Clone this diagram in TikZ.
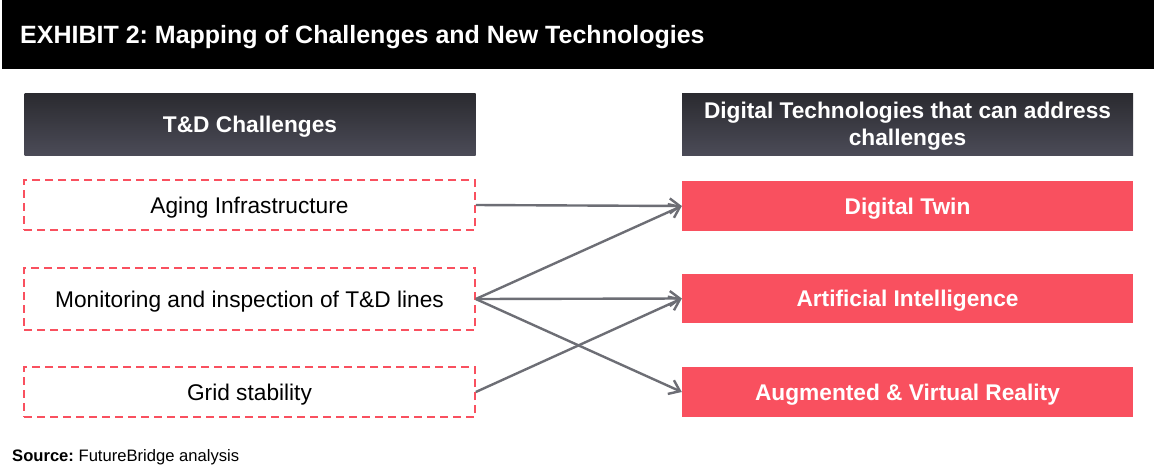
\documentclass[tikz,border=0pt]{standalone}
\usepackage{fontspec}
\setmainfont{Liberation Sans}
\usetikzlibrary{arrows.meta}
\frenchspacing
\definecolor{redbox}{HTML}{F9505F}
\definecolor{hdtop}{HTML}{2A2A2F}
\definecolor{hdbot}{HTML}{4B4B57}
\definecolor{arrowgray}{HTML}{6D6E75}
\tikzset{
  onel/.style={text height=16.5pt, text depth=0pt},
  hdrfont/.style={font=\fontsize{22.7}{27}\selectfont\bfseries, text=white},
  hdr/.style={hdrfont, top color=hdtop, bottom color=hdbot,
    minimum width=451pt, minimum height=62pt, inner sep=0pt, align=center},
  chal/.style={font=\fontsize{22.7}{27}\selectfont, onel, draw=redbox, dashed, dash pattern=on 8pt off 5pt, line width=1.6pt,
    minimum width=451pt, inner sep=0pt},
  tech/.style={font=\fontsize{22.7}{27}\selectfont\bfseries, onel, text=white, fill=redbox,
    minimum width=451pt, minimum height=50pt, inner sep=0pt},
  link/.style={draw=arrowgray, line width=2.4pt, -{Straight Barb[length=10pt,width=15pt]}},
}
\begin{document}
\begin{tikzpicture}[x=1pt,y=-1pt]
\useasboundingbox (0,0) rectangle (1154,475);
\fill[white] (0,0) rectangle (1154,475);
\fill[black] (2,0) rectangle (1154,69);
\node[anchor=west, text=white, font=\fontsize{25}{30}\selectfont\bfseries, inner sep=0pt, text height=18pt, text depth=0pt] (title) at (20,34.5) {EXHIBIT 2: Mapping of Challenges and New Technologies};

\node[hdr, onel] (lh) at (250,124) {T\&D Challenges};
\node[hdr] (rh) at (907.5,124) {};
\node[hdrfont, align=center, inner sep=0pt] (rhtext) at (907.5,126.5) {Digital Technologies that can address\\challenges};

\node[chal, minimum height=50pt] (c1) at (249.5,205) {Aging Infrastructure};
\node[chal, minimum height=62pt] (c2) at (249.5,299) {Monitoring and inspection of T\&D lines};
\node[chal, minimum height=50pt] (c3) at (249.5,392) {Grid stability};

\node[tech] (t1) at (907.5,206) {Digital Twin};
\node[tech, minimum height=49pt] (t2) at (907.5,298.5) {Artificial Intelligence};
\node[tech] (t3) at (907.5,392) {Augmented \& Virtual Reality};

\draw[link] (c1.east) -- (t1.west);
\draw[link] (c2.east) -- (t1.west);
\draw[link] (c2.east) -- (t2.west);
\draw[link] (c2.east) -- (t3.west);
\draw[link] (c3.east) -- (t2.west);

\node[anchor=west, inner sep=0pt, text height=12pt, text depth=0pt, font=\fontsize{16.6}{20}\selectfont] (src) at (12,455) {\textbf{Source:} FutureBridge analysis};
\end{tikzpicture}
\end{document}
